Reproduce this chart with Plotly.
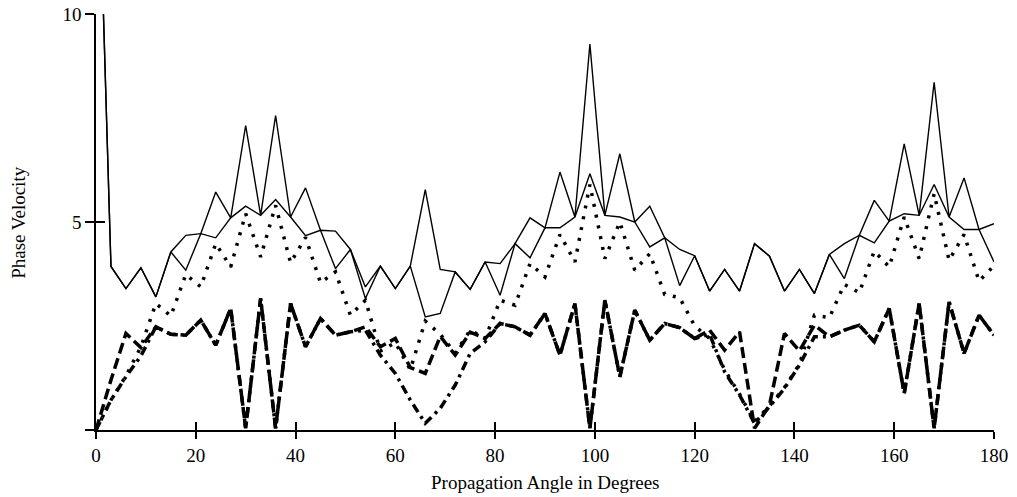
import plotly.graph_objects as go

angles = [0, 3, 6, 9, 12, 15, 18, 21, 24, 27, 30, 33, 36, 39, 42, 45, 48, 51, 54, 57,
          60, 63, 66, 69, 72, 75, 78, 81, 84, 87, 90, 93, 96, 99, 102, 105, 108, 111, 114, 117,
          120, 123, 126, 129, 132, 135, 138, 141, 144, 147, 150, 153, 156, 159, 162, 165, 168, 171, 174, 177, 180]

solid_a = [16.0, 3.93, 3.40, 3.90, 3.20, 4.28, 3.84, 4.72, 5.72, 5.10,
           7.32, 5.16, 7.56, 5.12, 5.82, 4.80, 3.88, 4.34, 3.16, 3.94,
           3.40, 3.94, 5.78, 3.86, 3.80, 3.38, 4.04, 4.00, 4.48, 5.10,
           4.86, 6.20, 5.12, 9.28, 5.16, 6.64, 5.00, 5.38, 4.62, 4.34,
           4.19, 3.34, 3.86, 3.34, 4.48, 4.18, 3.34, 3.86, 3.28, 4.22,
           4.48, 4.68, 5.52, 5.02, 6.88, 5.16, 8.36, 5.12, 6.06, 4.82, 4.04]

solid_b = [16.0, 3.93, 3.40, 3.90, 3.20, 4.28, 4.68, 4.72, 4.62, 5.10,
           5.38, 5.16, 5.54, 5.12, 4.67, 4.80, 4.78, 4.34, 3.44, 3.94,
           3.40, 3.94, 2.72, 2.80, 3.80, 3.38, 4.04, 3.24, 4.48, 4.14,
           4.86, 4.86, 5.12, 6.16, 5.16, 5.12, 5.00, 4.40, 4.62, 3.47,
           4.19, 3.34, 3.86, 3.34, 4.48, 4.18, 3.34, 3.86, 3.28, 4.22,
           3.64, 4.68, 4.50, 5.02, 5.20, 5.16, 5.90, 5.12, 4.82, 4.82, 4.96]

dotted_c = [0.0, 0.72, 1.30, 2.00, 3.04, 2.74, 3.74, 3.44, 4.48, 3.92,
            5.20, 4.16, 5.40, 4.02, 4.63, 3.54, 3.80, 2.76, 3.12, 1.90,
            2.10, 1.45, 2.62, 2.30, 1.85, 2.40, 2.20, 3.12, 3.00, 4.00,
            3.68, 4.70, 4.04, 5.90, 4.12, 5.00, 3.84, 4.24, 3.26, 3.18,
            2.50, 2.20, 1.45, 0.86, 0.20, 0.58, 1.02, 1.58, 2.76, 2.70,
            3.50, 3.30, 4.30, 3.92, 5.12, 4.12, 5.68, 4.08, 4.70, 3.58, 3.95]

dashed_d = [0.0, 1.20, 2.32, 1.98, 2.48, 2.30, 2.28, 2.64, 2.04, 2.92,
            0.04, 3.16, 0.04, 3.04, 2.00, 2.68, 2.28, 2.36, 2.48, 2.00,
            2.20, 1.50, 1.36, 2.25, 1.80, 2.35, 2.20, 2.56, 2.48, 2.28,
            2.80, 1.80, 3.04, 0.04, 3.12, 1.28, 2.88, 2.16, 2.56, 2.46,
            2.20, 2.40, 1.92, 2.36, 0.04, 0.60, 2.32, 1.90, 2.52, 2.24,
            2.40, 2.52, 2.12, 2.92, 0.88, 3.04, 0.04, 3.08, 1.84, 2.76, 2.28]

dashdot_e = [0.0, 0.72, 1.28, 1.78, 2.48, 2.30, 2.28, 2.64, 2.04, 2.92,
             0.04, 3.16, 0.04, 3.04, 2.00, 2.68, 2.28, 2.36, 2.40, 1.80,
             1.36, 0.72, 0.16, 0.52, 1.08, 1.84, 2.12, 2.56, 2.48, 2.28,
             2.80, 1.80, 3.04, 0.04, 3.12, 1.28, 2.88, 2.16, 2.56, 2.46,
             2.20, 2.30, 1.40, 0.84, 0.16, 0.56, 1.00, 1.56, 2.24, 2.24,
             2.40, 2.52, 2.12, 2.92, 0.88, 3.04, 0.04, 3.08, 1.84, 2.76, 2.28]

x_ticks = [0, 20, 40, 60, 80, 100, 120, 140, 160, 180]
y_ticks = [0, 5, 10]
y_tick_text = ["", "5", "10"]

FONT = "Liberation Serif"
FS = 19

fig = go.Figure()
for ys in (solid_a, solid_b):
    fig.add_trace(go.Scatter(x=angles, y=ys, mode="lines",
                             line=dict(color="black", width=1.4), showlegend=False))
fig.add_trace(go.Scatter(x=angles, y=dotted_c, mode="lines",
                         line=dict(color="black", width=3.5, dash="3px,8px"), showlegend=False))
fig.add_trace(go.Scatter(x=angles, y=dashed_d, mode="lines",
                         line=dict(color="black", width=3.5, dash="11px,5px"), showlegend=False))
fig.add_trace(go.Scatter(x=angles, y=dashdot_e, mode="lines",
                         line=dict(color="black", width=3.5, dash="9px,5px,3px,5px"), showlegend=False))
# helper trace for the overlaid (inner tick) axes
fig.add_trace(go.Scatter(x=[None], y=[None], xaxis="x2", yaxis="y2",
                         showlegend=False, hoverinfo="skip"))

axis_common = dict(showgrid=False, zeroline=False, linecolor="black", linewidth=1.5,
                   tickcolor="black", tickwidth=1.5)

fig.update_layout(
    width=1017, height=497,
    margin=dict(l=96, r=23, t=14, b=67),
    paper_bgcolor="white", plot_bgcolor="white",
    font=dict(family=FONT, size=FS, color="black"),
    xaxis=dict(range=[0, 180], tickvals=x_ticks, ticks="outside", ticklen=7,
               showline=True, automargin=False, tickfont=dict(family=FONT, size=FS), **axis_common),
    yaxis=dict(range=[0, 10], tickvals=y_ticks, ticktext=y_tick_text, ticks="outside",
               ticklen=9, showline=True, automargin=False, tickfont=dict(family=FONT, size=FS),
               **axis_common),
    xaxis2=dict(range=[0, 180], overlaying="x", anchor="y2", side="bottom",
                tickvals=x_ticks, ticks="inside", ticklen=8, showticklabels=False,
                showline=False, **axis_common),
    yaxis2=dict(range=[0, 10], overlaying="y", anchor="x2", side="left",
                tickvals=y_ticks, ticks="inside", ticklen=9, showticklabels=False,
                showline=False, **axis_common),
    annotations=[
        dict(text="Propagation Angle in Degrees", xref="paper", yref="paper",
             x=0.5, y=-0.125, xanchor="center", yanchor="middle", showarrow=False,
             font=dict(family=FONT, size=FS)),
        dict(text="Phase Velocity", xref="paper", yref="paper",
             x=-0.087, y=0.5, xanchor="center", yanchor="middle", textangle=-90,
             showarrow=False, font=dict(family=FONT, size=FS)),
    ],
)

fig.write_html("out.html",
               config={"displayModeBar": False},
               post_script="document.body.style.margin='0';document.body.style.overflow='hidden';")
